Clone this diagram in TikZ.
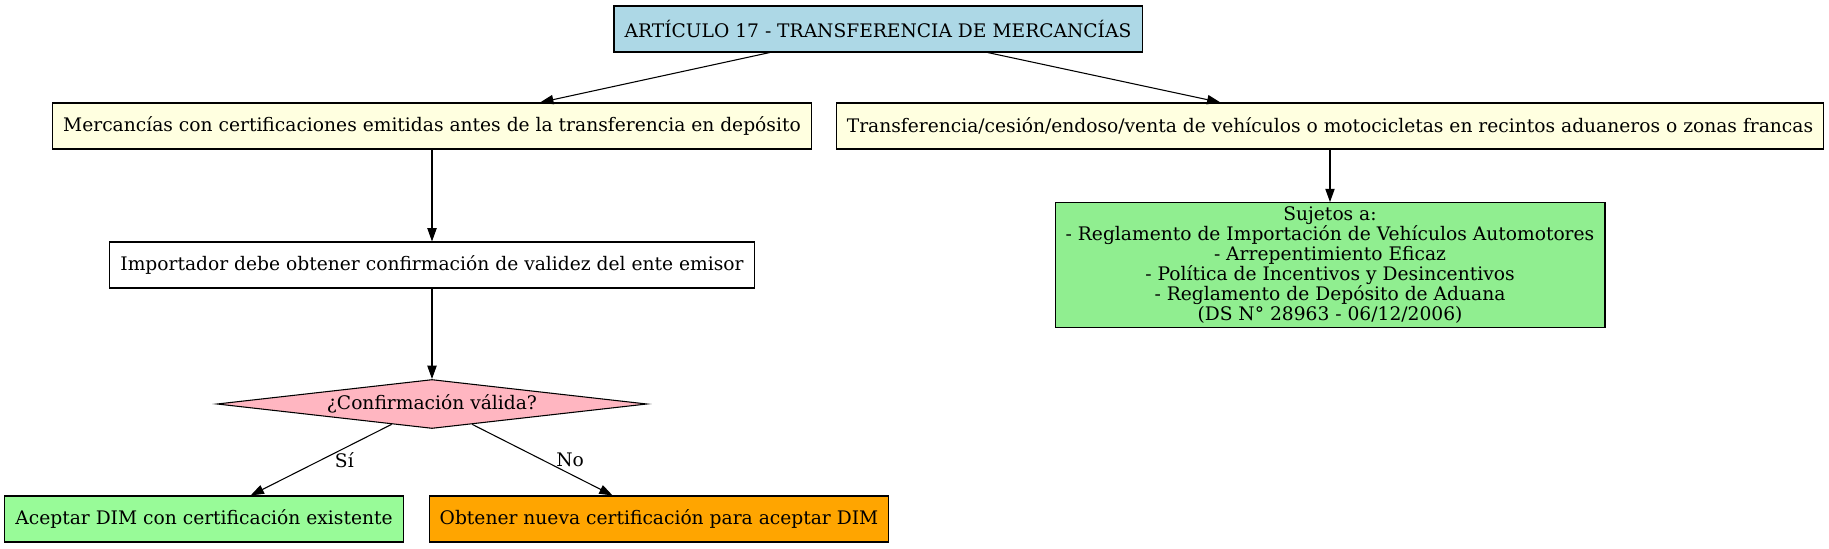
\documentclass[tikz,border=0pt]{standalone}
\usepackage{fontspec}
\setmainfont{DejaVu Serif}
\usetikzlibrary{shapes.geometric,arrows.meta}
\definecolor{azulclaro}{RGB}{173,216,230}
\definecolor{amarilloclaro}{RGB}{255,255,224}
\definecolor{verdeclaro}{RGB}{144,238,144}
\definecolor{verdepalido}{RGB}{152,251,152}
\definecolor{naranja}{RGB}{255,165,0}
\definecolor{rosaclaro}{RGB}{255,182,193}

\begin{document}
\begin{tikzpicture}[x=0.75pt,y=-0.75pt,
    txt/.style={font=\fontsize{14}{15}\selectfont},
    caja/.style={txt,draw,line width=0.8pt,inner xsep=8pt,inner ysep=3pt,minimum height=34.5pt},
    cond/.style={txt,draw,diamond,aspect=8.8,line width=0.8pt,inner sep=0pt,minimum width=322.5pt,minimum height=36.75pt},
    flecha/.style={line width=0.8pt,-{Triangle[length=10pt,width=7pt]}},
    etiq/.style={txt,inner sep=1pt,anchor=west,xshift=9pt}]
    \useasboundingbox (0,0) rectangle (1829,549);
    \node[caja,fill=azulclaro] (art) at (878,29) {ARTÍCULO 17 - TRANSFERENCIA DE MERCANCÍAS};
    \node[caja,fill=amarilloclaro] (merc) at (432,126) {Mercancías con certificaciones emitidas antes de la transferencia en depósito};
    \node[caja,fill=amarilloclaro] (trans) at (1330,126) {Transferencia/cesión/endoso/venta de vehículos o motocicletas en recintos aduaneros o zonas francas};
    \node[caja,fill=verdeclaro,align=center] (suj) at (1330,265) {Sujetos a:\\- Reglamento de Importación de Vehículos Automotores\\- Arrepentimiento Eficaz\\- Política de Incentivos y Desincentivos\\- Reglamento de Depósito de Aduana\\(DS N° 28963 - 06/12/2006)};
    \node[caja] (imp) at (432,265) {Importador debe obtener confirmación de validez del ente emisor};
    \node[cond,fill=rosaclaro] (conf) at (432,404) {¿Confirmación válida?};
    \node[caja,fill=verdepalido] (acep) at (204,519) {Aceptar DIM con certificación existente};
    \node[caja,fill=naranja] (obt) at (659,519) {Obtener nueva certificación para aceptar DIM};
    \draw[flecha] (art) -- (merc);
    \draw[flecha] (art) -- (trans);
    \draw[flecha] (trans) -- (suj);
    \draw[flecha] (merc) -- (imp);
    \draw[flecha] (imp) -- (conf);
    \draw[flecha] (conf) -- node[etiq,pos=.5]{Sí} (acep);
    \draw[flecha] (conf) -- node[etiq,pos=.5]{No} (obt);
\end{tikzpicture}
\end{document}
